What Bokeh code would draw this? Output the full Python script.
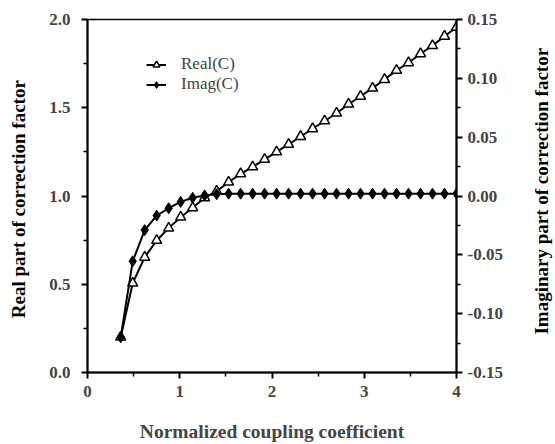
import math
from bokeh.plotting import figure
from bokeh.layouts import row
from bokeh.models import Range1d, LinearAxis, PrintfTickFormatter, FixedTicker, Legend, LegendItem, Label
from bokeh.embed import file_html
from bokeh.resources import INLINE

x_vals = [0.36, 0.49, 0.62, 0.75, 0.88, 1.01, 1.14, 1.27, 1.40, 1.53, 1.66, 1.79, 1.92,
          2.05, 2.18, 2.31, 2.44, 2.57, 2.70, 2.83, 2.96, 3.09, 3.22, 3.35, 3.48, 3.61,
          3.74, 3.87, 4.00]
real_c = [0.20, 0.506, 0.653, 0.748, 0.818, 0.88, 0.933, 0.99, 1.027, 1.078, 1.126, 1.165,
          1.207, 1.25, 1.292, 1.337, 1.381, 1.425, 1.469, 1.52, 1.565, 1.611, 1.66, 1.712,
          1.755, 1.806, 1.852, 1.905, 1.956]
imag_c = [-0.120, -0.0555, -0.029, -0.0166, -0.0104, -0.005, -0.0015, 0.0005, 0.0015, 0.002,
          0.002, 0.002, 0.002, 0.002, 0.002, 0.002, 0.002, 0.002, 0.002, 0.002, 0.002, 0.002,
          0.002, 0.002, 0.002, 0.002, 0.002, 0.002, 0.002]

x_ticks = [0, 1, 2, 3, 4]
x_minor = [0.5, 1.5, 2.5, 3.5]
left_ticks = [0.0, 0.5, 1.0, 1.5, 2.0]
left_minor = [0.25, 0.75, 1.25, 1.75]
right_ticks = [-0.15, -0.10, -0.05, 0.0, 0.05, 0.10, 0.15]
right_minor = [-0.125, -0.075, -0.025, 0.025, 0.075, 0.125]

x_title = "Normalized coupling coefficient"
left_title = "Real part of correction factor"
right_title = "Imaginary part of correction factor"

FONT = "Liberation Serif"
H = 444
LW, RW = 30, 25
PW = 555 - LW - RW

p = figure(width=PW, height=H, output_backend="svg", toolbar_location=None,
           x_range=Range1d(0, 4), y_range=Range1d(0, 2),
           min_border_left=87 - LW, min_border_right=555 - RW - 456,
           min_border_top=19, min_border_bottom=72)
p.extra_y_ranges = {"imag": Range1d(-0.15, 0.15)}
p.grid.visible = False
p.outline_line_color = "black"
p.outline_line_width = 1.5

def style_axis(ax, fmt, ticks, minor):
    ax.ticker = FixedTicker(ticks=ticks, minor_ticks=minor)
    ax.formatter = PrintfTickFormatter(format=fmt)
    ax.major_label_text_font = FONT
    ax.major_label_text_font_style = "bold"
    ax.major_label_text_font_size = "17px"
    ax.axis_line_width = 2
    ax.axis_line_color = "black"
    ax.major_tick_line_width = 2
    ax.minor_tick_line_width = 1.5
    ax.major_tick_out = 6
    ax.major_tick_in = 0
    ax.minor_tick_out = 4
    ax.minor_tick_in = 0

style_axis(p.xaxis[0], "%d", x_ticks, x_minor)
style_axis(p.yaxis[0], "%.1f", left_ticks, left_minor)
xa = p.xaxis[0]
xa.axis_label = x_title
xa.axis_label_text_font = FONT
xa.axis_label_text_font_style = "bold"
xa.axis_label_text_font_size = "19.5px"
xa.axis_label_standoff = 21
xa.major_label_standoff = 7
p.yaxis[0].major_label_standoff = 11

right = LinearAxis(y_range_name="imag")
style_axis(right, "%.2f", right_ticks, right_minor)
right.major_label_standoff = 5
p.add_layout(right, "right")

l1 = p.line(x_vals, real_c, line_color="black", line_width=2)
s1 = p.scatter(x_vals, real_c, marker="triangle", size=10, fill_color="white",
               line_color="black", line_width=1.5)
l2 = p.line(x_vals, imag_c, line_color="black", line_width=2, y_range_name="imag")
s2 = p.scatter(x_vals, imag_c, marker="diamond", size=11, fill_color="black",
               line_color="black", y_range_name="imag")

legend = Legend(items=[LegendItem(label="Real(C)", renderers=[l1, s1]),
                       LegendItem(label="Imag(C)", renderers=[l2, s2])],
                location=(59, 278), border_line_color=None, background_fill_alpha=0,
                padding=0, margin=0, spacing=0, label_height=17, glyph_height=17,
                glyph_width=20, label_standoff=15,
                label_text_font=FONT, label_text_font_size="17px")
p.add_layout(legend, "center")


def side_title(width, text, cx, cy, size):
    f = figure(width=width, height=H, output_backend="svg", toolbar_location=None,
               x_range=Range1d(0, width), y_range=Range1d(0, H),
               x_axis_location=None, y_axis_location=None, min_border=0)
    f.grid.visible = False
    f.outline_line_color = None
    f.add_layout(Label(x=cx, y=H - cy, text=text, angle=math.pi / 2,
                       text_align="center", text_baseline="middle",
                       text_font=FONT, text_font_style="bold", text_font_size=size,
                       text_color="black"))
    return f

left_fig = side_title(LW, left_title, 18, 226, "19px")
right_fig = side_title(RW, right_title, 541 - (555 - RW), 216, "19px")

layout = row(left_fig, p, right_fig, spacing=0)
open("out.html", "w").write(file_html(layout, INLINE))
